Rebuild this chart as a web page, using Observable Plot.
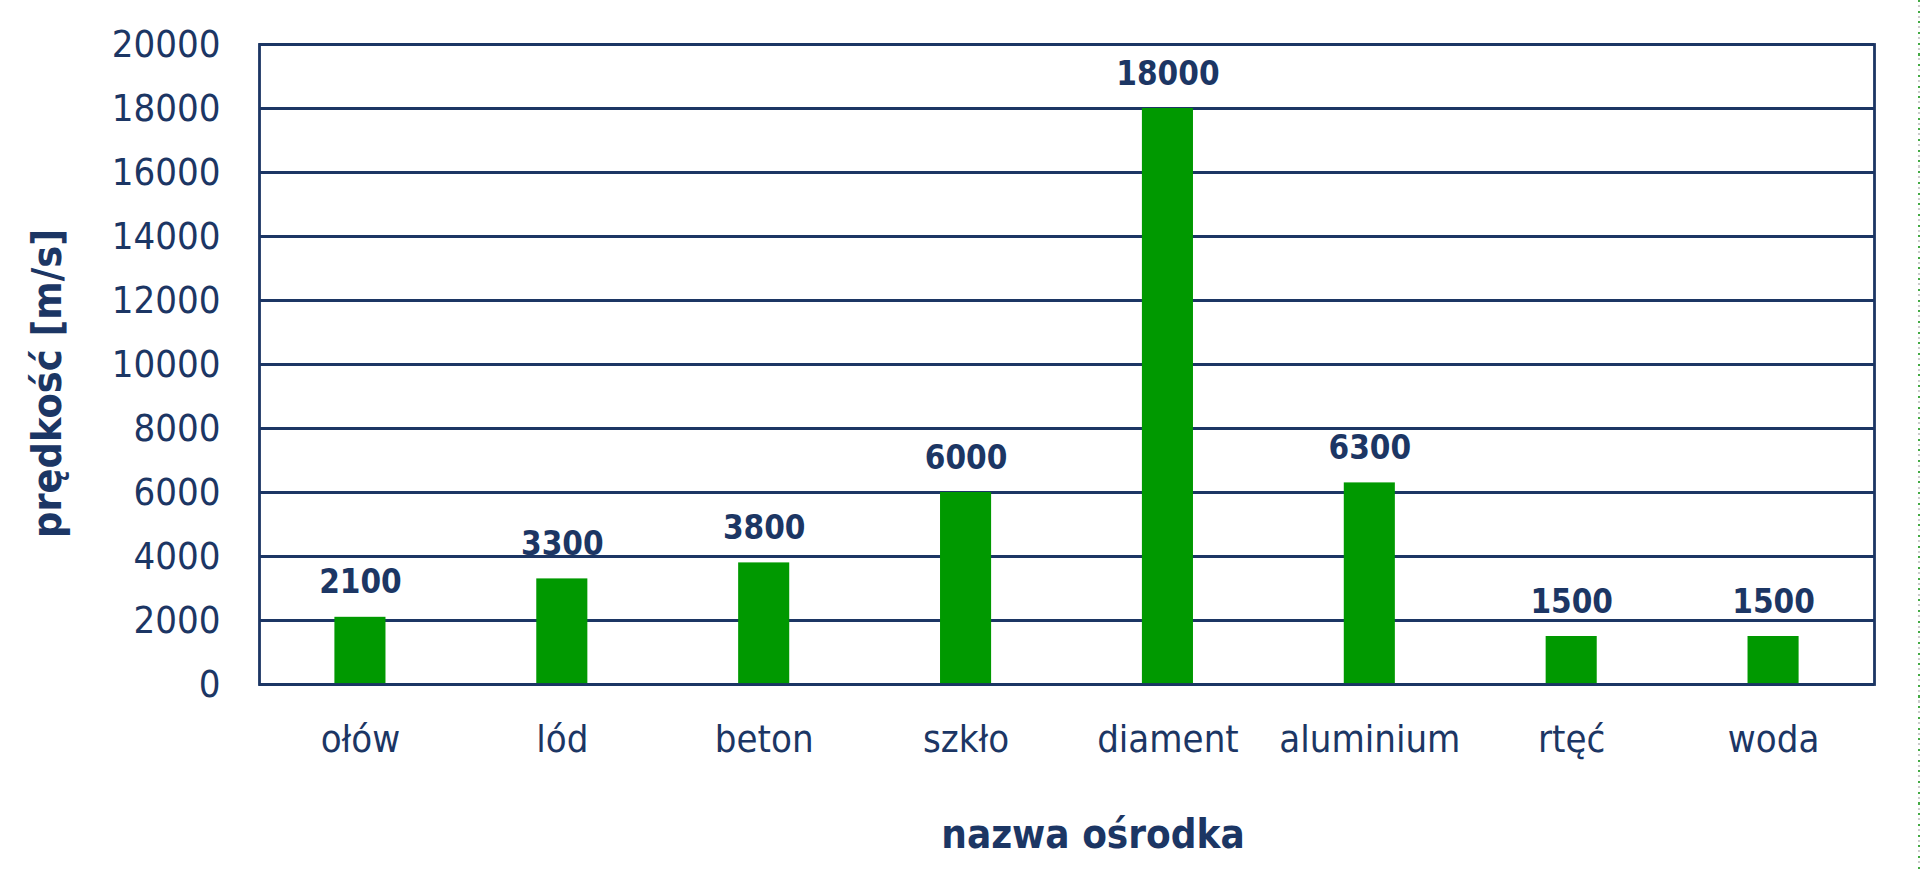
<!DOCTYPE html>
<html>
<head>
<meta charset="utf-8">
<script src="https://cdn.jsdelivr.net/npm/d3@7"></script>
<script src="https://cdn.jsdelivr.net/npm/@observablehq/plot@0.6"></script>
<style>
  html, body { margin: 0; padding: 0; background: #fff; overflow: hidden; }
  #wrap { position: relative; width: 1920px; height: 871px; }
  #edge { position: absolute; right: 0; top: 0; width: 2px; height: 871px;
    background: repeating-linear-gradient(to bottom, #44aa44 0 2px, transparent 2px 5px, #cccccc 5px 7px, transparent 7px 10.7px); }
  svg { font-family: "DejaVu Sans Condensed", "DejaVu Sans", sans-serif; font-stretch: condensed; }
</style>
</head>
<body>
<div id="wrap"><div id="edge"></div></div>
<script>
const categories = ["ołów", "lód", "beton", "szkło", "diament", "aluminium", "rtęć", "woda"];
const values = [2100, 3300, 3800, 6000, 18000, 6300, 1500, 1500];
const yTicks = [0, 2000, 4000, 6000, 8000, 10000, 12000, 14000, 16000, 18000, 20000];
const xTitle = "nazwa ośrodka";
const yTitle = "prędkość [m/s]";

const data = categories.map((c, i) => ({category: c, value: values[i]}));
const navy = "#1c3664";
const green = "#009900";

const chart = Plot.plot({
  width: 1920,
  height: 871,
  marginLeft: 259,
  marginRight: 46,
  marginTop: 44,
  marginBottom: 187,
  style: {fontFamily: '"DejaVu Sans Condensed", "DejaVu Sans", sans-serif', color: navy, background: "transparent"},
  x: {domain: categories, paddingInner: 0.747, paddingOuter: 0.3735, round: false, label: null},
  y: {domain: [0, 20000], label: null},
  marks: [
    Plot.ruleY(yTicks, {stroke: navy, strokeWidth: 2.8}),
    Plot.barY(data, {x: "category", y: "value", fill: green}),
    Plot.frame({stroke: navy, strokeWidth: 2.8}),
    Plot.axisY(yTicks, {tickSize: 0, tickPadding: 39, fontSize: 38, fill: navy, tickFormat: d3.format("d"), label: null}),
    Plot.axisX({tickSize: 0, tickPadding: 41, fontSize: 38, fill: navy, label: null}),
    Plot.text(data, {x: "category", y: "value", text: d => String(d.value), dy: -24, lineAnchor: "bottom", fontSize: 33, fontWeight: "bold", fill: navy}),
    Plot.text([xTitle], {text: d => d, frameAnchor: "bottom", textAnchor: "middle", dx: 26, dy: 163, lineAnchor: "bottom", fontSize: 40, fontWeight: "bold", fill: navy}),
    Plot.text([yTitle], {text: d => d, frameAnchor: "left", textAnchor: "middle", dx: -199, dy: 19, rotate: -90, lineAnchor: "bottom", fontSize: 41, fontWeight: "bold", fill: navy})
  ]
});
document.getElementById("wrap").prepend(chart);
</script>
</body>
</html>
